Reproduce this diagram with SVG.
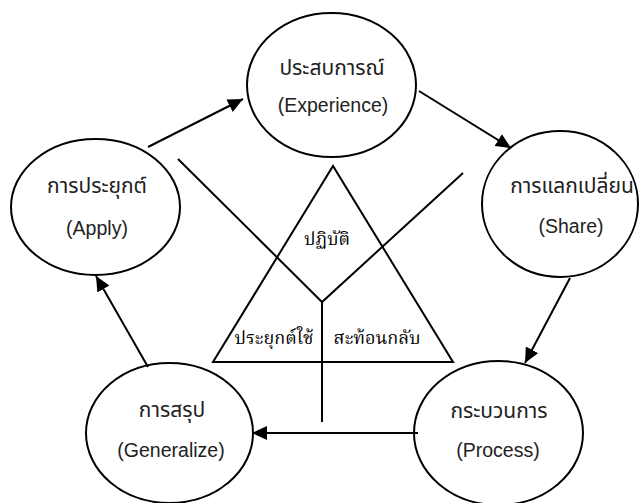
<svg xmlns="http://www.w3.org/2000/svg" width="640" height="503" viewBox="0 0 640 503">
<style>
.node ellipse{fill:none;stroke:#000;stroke-width:2}
.lbl{font-family:"Noto Sans Thai","Liberation Sans",Arial,sans-serif;font-size:21px;fill:#222;text-anchor:middle}
.en{font-family:"Liberation Sans",Arial,sans-serif;font-size:19.5px;fill:#222;text-anchor:middle}
.tri{font-family:"Liberation Serif","Noto Serif Thai",serif;font-size:18px;fill:#000;text-anchor:middle}
.ln{stroke:#000;stroke-width:2;fill:none}
.arr{stroke:#000;stroke-width:2;fill:none;marker-end:url(#ah)}
</style>
<defs>
<marker id="ah" markerUnits="userSpaceOnUse" markerWidth="16" markerHeight="14" refX="15" refY="7" orient="auto">
<path d="M0,0 L15,7 L0,14 z" fill="#000"/>
</marker>
</defs>
<rect width="640" height="503" fill="#fff"/>
<g id="center">
<path class="ln" d="M213,362 L333,166 L453,362 Z"/>
<path class="ln" d="M178,159 L322,302 L463,173 M322,302 L322,422"/>
<text class="tri" x="327" y="245">ปฏิบัติ</text>
<text class="tri" x="274" y="344">ประยุกต์ใช้</text>
<text class="tri" x="377" y="344">สะท้อนกลับ</text>
</g>
<g id="experience" class="node">
<ellipse cx="331.5" cy="85" rx="84.5" ry="72"/>
<text class="lbl" x="332" y="75">ประสบการณ์</text>
<text class="en" x="333" y="112">(Experience)</text>
</g>
<g id="share" class="node">
<ellipse cx="560" cy="204" rx="78" ry="73"/>
<text class="lbl" x="572" y="193">การแลกเปลี่ยน</text>
<text class="en" x="571" y="233">(Share)</text>
</g>
<g id="process" class="node">
<ellipse cx="498.5" cy="433" rx="84.5" ry="72"/>
<text class="lbl" x="499" y="418">กระบวนการ</text>
<text class="en" x="498" y="457">(Process)</text>
</g>
<g id="generalize" class="node">
<ellipse cx="169.5" cy="433" rx="83.5" ry="70"/>
<text class="lbl" x="172" y="417">การสรุป</text>
<text class="en" x="171" y="457">(Generalize)</text>
</g>
<g id="apply" class="node">
<ellipse cx="95.5" cy="207" rx="84.5" ry="68"/>
<text class="lbl" x="97" y="193">การประยุกต์</text>
<text class="en" x="97" y="235">(Apply)</text>
</g>
<g id="connectors">
<line class="arr" x1="148" y1="147" x2="243" y2="99"/>
<line class="arr" x1="419" y1="91" x2="511" y2="148"/>
<line class="arr" x1="570" y1="278" x2="525" y2="363"/>
<line class="arr" x1="418" y1="433" x2="252" y2="433"/>
<line class="arr" x1="148" y1="367" x2="96" y2="276"/>
</g>
</svg>
